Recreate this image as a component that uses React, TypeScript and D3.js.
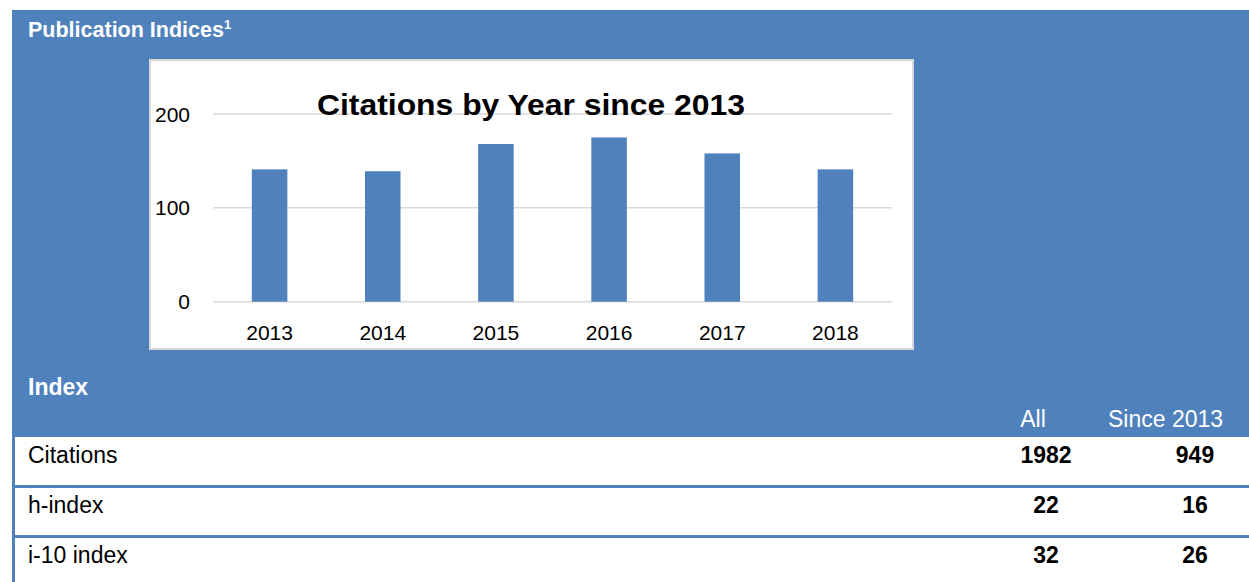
import * as d3 from 'd3';

const years = ['2013', '2014', '2015', '2016', '2017', '2018'];
const citations = [141, 139, 168, 175, 158, 141];
const yTicks = [0, 100, 200];

const indexNames = ['Citations', 'h-index', 'i-10 index'];
const allValues = [1982, 22, 32];
const sinceValues = [949, 16, 26];
const columnHeads = ['All', 'Since 2013'];

const W = 1249;
const H = 582;
const BLUE = '#4F81BD';
const FONT = '"Liberation Sans", Arial, sans-serif';

export default function App() {
  // chart box and plot area
  const box = { x: 150, y: 60, w: 763, h: 289 };
  const plot = { left: 213, right: 892, top: 114, bottom: 301.7 };

  const x = d3
    .scaleBand<string>()
    .domain(years)
    .range([plot.left, plot.right])
    .paddingInner(0.686)
    .paddingOuter(0.343);

  const y = d3.scaleLinear().domain([0, 200]).range([plot.bottom, plot.top]);

  // table rows
  const rowTop = 437;
  const rowH = 50;
  const allX = 1046;
  const sinceX = 1195;

  return (
    <svg
      width={W}
      height={H}
      style={{ position: 'absolute', left: 0, top: 0, fontFamily: FONT }}
    >
      <rect x={0} y={0} width={W} height={H} fill="#fff" />
      {/* ── Blue header panel ── */}
      <rect x={12} y={10} width={W - 12} height={rowTop - 10} fill={BLUE} />
      <text x={28} y={37} fill="#fff" fontWeight={700} fontSize={21.5}>
        Publication Indices
        <tspan fontSize={13} dy={-8}>1</tspan>
      </text>

      {/* ── Chart box ── */}
      <rect
        x={box.x}
        y={box.y}
        width={box.w}
        height={box.h}
        fill="#fff"
        stroke="#d9d9d9"
        strokeWidth={2}
      />

      {yTicks.map((t) => (
        <g key={t}>
          <line
            x1={plot.left}
            x2={plot.right}
            y1={y(t)}
            y2={y(t)}
            stroke="#d9d9d9"
            strokeWidth={1.5}
          />
          <text
            x={190}
            y={y(t)}
            dy="0.36em"
            textAnchor="end"
            fontSize={21}
            fill="#000"
          >
            {t}
          </text>
        </g>
      ))}

      {years.map((yr, i) => (
        <rect
          key={yr}
          x={x(yr)!}
          y={y(citations[i])}
          width={x.bandwidth()}
          height={plot.bottom - y(citations[i])}
          fill={BLUE}
        />
      ))}

      {years.map((yr) => (
        <text
          key={yr}
          x={x(yr)! + x.bandwidth() / 2}
          y={340}
          textAnchor="middle"
          fontSize={21}
          fill="#000"
        >
          {yr}
        </text>
      ))}

      <text
        x={531}
        y={115}
        textAnchor="middle"
        fontWeight={700}
        fontSize={30}
        textLength={428}
        lengthAdjust="spacingAndGlyphs"
        fill="#000"
      >
        Citations by Year since 2013
      </text>

      {/* ── Index table header ── */}
      <text x={28} y={395} fill="#fff" fontWeight={700} fontSize={23}>
        Index
      </text>
      <text x={allX - 13} y={427} textAnchor="middle" fill="#fff" fontSize={23}>
        {columnHeads[0]}
      </text>
      <text x={1165.5} y={427} textAnchor="middle" fill="#fff" fontSize={23}>
        {columnHeads[1]}
      </text>

      {/* ── Rows ── */}
      <rect x={12} y={rowTop} width={3} height={H - rowTop} fill={BLUE} />
      {indexNames.map((name, i) => (
        <g key={name}>
          {i > 0 && (
            <rect x={12} y={rowTop + i * rowH - 2} width={W - 12} height={3} fill={BLUE} />
          )}
          <text x={28} y={rowTop + i * rowH + 25.5} fontSize={23} fill="#000">
            {name}
          </text>
          <text
            x={allX}
            y={rowTop + i * rowH + 25.5}
            textAnchor="middle"
            fontWeight={700}
            fontSize={23}
            fill="#000"
          >
            {allValues[i]}
          </text>
          <text
            x={sinceX}
            y={rowTop + i * rowH + 25.5}
            textAnchor="middle"
            fontWeight={700}
            fontSize={23}
            fill="#000"
          >
            {sinceValues[i]}
          </text>
        </g>
      ))}
    </svg>
  );
}
